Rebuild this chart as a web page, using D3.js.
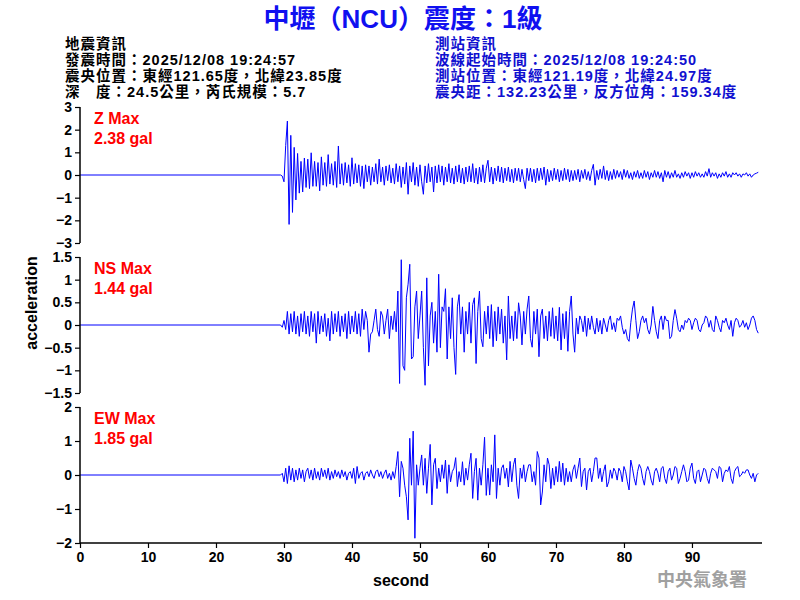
<!DOCTYPE html>
<html><head><meta charset="utf-8">
<script src="https://cdn.jsdelivr.net/npm/d3@7"></script>
<style>
html,body{margin:0;padding:0;background:#fff;}
text{font-family:"Liberation Sans","Noto Sans CJK TC",Arial,sans-serif;font-weight:bold;}
</style></head>
<body><svg id="c" width="800" height="600"></svg>
<script>
// ---- data ----
const title = "中壢（NCU）震度：1級";
const quakeInfo = ["地震資訊","發震時間：2025/12/08 19:24:57","震央位置：東經121.65度，北緯23.85度","深　度：24.5公里，芮氏規模：5.7"];
const stationInfo = ["測站資訊","波線起始時間：2025/12/08 19:24:50","測站位置：東經121.19度，北緯24.97度","震央距：132.23公里，反方位角：159.34度"];
const channels = ["Z","NS","EW"];
const maxLabels = ["2.38 gal","1.44 gal","1.85 gal"];
const yDomains = [[-3,3],[-1.5,1.5],[-2,2]];
const yTicks = [[-3,-2,-1,0,1,2,3],[-1.5,-1,-0.5,0,0.5,1,1.5],[-2,-1,0,1,2]];
const xTicks = [0,10,20,30,40,50,60,70,80,90];
const startTime = 29.5;   // seconds, first sample of arrays below
const sampleStep = 0.25;  // seconds between samples

const zValues = [
 0,-0.05,-0.3,1.3,  2.38,-2.18,1.75,-1.65,  1.22,-1.1,0.95,-0.8,  0.6,-0.75,0.75,-0.55,
 0.7,-0.6,0.98,-0.5,  0.6,-0.5,0.55,-0.7,  0.8,-0.45,0.55,-0.5,  0.9,-0.4,0.5,-0.45,
 0.6,-0.55,1.28,-0.4,  0.5,-0.45,0.55,-0.35,  0.45,-0.5,0.76,-0.4,  0.5,-0.35,0.45,-0.5,
 0.4,-0.6,0.45,-0.3,  0.4,-0.45,0.35,-0.3,  0.5,-0.4,0.7,-0.3,  0.35,-0.45,0.4,-0.25,
 0.45,-0.35,0.3,-0.4,  0.5,-0.3,0.4,-0.55,  0.35,-0.4,0.55,-0.85,  0.4,-0.3,0.55,-0.45,
 0.35,-0.5,0.45,-0.3,  -0.85,0.4,-0.35,0.5,  -0.3,0.35,-0.75,0.4,  -0.35,0.45,-0.3,0.4,
 -0.45,0.35,-0.3,0.5,  -0.35,0.3,-0.4,0.4,  -0.3,0.45,-0.35,0.3,  -0.4,0.35,-0.3,0.4,
 -0.3,0.5,-0.35,0.3,  -0.4,0.35,-0.3,0.45,  -0.35,0.3,0.65,-0.3,  0.35,-0.4,0.3,-0.25,
 0.4,-0.3,0.35,-0.35,  0.3,-0.25,0.35,-0.3,  0.25,-0.35,0.3,-0.25,  0.3,-0.3,0.25,-0.2,
 -0.6,0.3,-0.25,0.3,  -0.3,0.25,-0.35,0.3,  -0.25,0.3,-0.2,0.35,  -0.45,0.25,-0.3,0.2,
 -0.25,0.3,-0.2,0.25,  -0.3,0.2,-0.25,0.3,  -0.2,0.25,-0.3,0.2,  -0.25,0.2,-0.2,0.25,
 -0.3,0.2,-0.15,0.25,  -0.2,0.15,-0.25,0.2,  0.47,-0.45,0.2,-0.2,  0.25,-0.15,0.4,-0.2,
 0.2,-0.25,0.15,-0.2,  0.25,-0.15,0.2,-0.1,  0.15,-0.2,0.25,-0.1,  0.2,-0.15,0.1,-0.2,
 0.15,-0.1,0.2,-0.15,  0.1,-0.15,0.2,-0.1,  0.15,-0.2,0.1,-0.1,  0.2,-0.1,0.15,-0.15,
 0.1,-0.3,0.2,-0.1,  0.15,-0.15,0.1,-0.1,  0.2,-0.1,0.05,-0.15,  0.1,-0.1,0.15,-0.05,
 0.1,-0.15,0.1,-0.1,  0.15,-0.05,0.1,-0.1,  0.05,-0.1,0.15,-0.05,  0.28,-0.1,0.1,-0.05,
 0.1,-0.15,0.05,-0.1,  0.1,-0.05,0.15,-0.1,  0.05,-0.1,0.1,0.0,  0.1,-0.05,0.05,-0.1,
 0.05,0.0,0.1,-0.05,  0.05,-0.1,0.0,0.05,  0.08,0.12
];
const nsValues = [
 0,-0.05,0.1,-0.1,  0.3,-0.2,0.25,-0.15,  0.3,-0.2,0.2,-0.25,  0.25,-0.15,0.3,-0.2,
 0.2,-0.25,0.3,-0.15,  0.25,-0.4,0.3,-0.2,  0.2,-0.15,0.25,-0.25,  0.15,-0.35,0.3,-0.2,
 0.25,-0.15,0.3,-0.25,  0.2,-0.15,0.25,-0.3,  0.3,-0.2,0.2,-0.15,  0.3,-0.2,0.25,-0.25,
 0.35,-0.1,0.3,0.1,  -0.6,-0.2,-0.15,0.1,  0.35,-0.1,-0.25,0.3,  0.2,-0.2,0.1,0.35,
 -0.3,0.2,-0.1,0.3,  -0.15,0.75,-1.29,1.44,  -0.9,-1.0,0.6,0.9,  1.34,-0.75,-0.7,0.4,
 0.75,-0.3,0.2,0.75,  -0.5,-1.33,1.04,-0.9,  0.2,0.5,-0.4,0.3,  -0.6,1.12,-0.5,0.4,
 0.3,0.8,-0.75,0.4,  -0.3,0.6,-0.5,-1.09,  0.4,0.67,-0.2,0.4,  -0.6,0.3,-0.2,0.5,
 -0.4,0.45,0.6,-0.85,  0.3,0.75,-0.3,-0.48,  0.3,-0.2,0.42,-0.3,  0.45,-0.48,0.3,-0.35,
 0.4,-0.2,0.35,-0.4,  0.2,-0.77,0.64,-0.3,  0.2,-0.35,0.3,-0.3,  0.49,0.2,-0.44,0.3,
 -0.2,0.35,0.64,-0.3,  -0.49,0.3,-0.2,0.35,  -0.7,0.2,0.35,-0.3,  0.2,-0.35,0.3,-0.25,
 0.38,-0.3,0.2,-0.35,  0.39,-0.55,0.25,-0.3,  0.3,-0.58,0.3,0.64,  -0.2,-0.6,0.15,-0.2,
 0.2,0.1,-0.15,0.2,  -0.25,0.15,-0.1,0.2,  -0.05,-0.2,0.15,-0.15,  0.1,-0.2,0.15,0.0,
 -0.15,0.1,0.2,-0.1,  0.05,-0.15,0.15,0.1,  0.2,-0.05,-0.2,-0.1,  -0.3,-0.36,0.05,0.35,
 0.53,0.1,-0.3,-0.15,  0.1,0.2,0.05,0.15,  -0.1,-0.2,0.0,0.41,  0.1,-0.15,-0.3,0.1,
 0.2,-0.1,0.2,0.1,  0.1,-0.3,-0.25,0.1,  0.34,0.15,-0.1,-0.15,  0.0,-0.1,0.1,0.05,
 0.15,0.1,-0.1,0.05,  0.15,0.1,-0.1,-0.15,  0.0,0.05,0.2,0.15,  -0.05,0.1,-0.1,-0.15,
 0.2,0.1,-0.05,-0.15,  0.1,0.05,0.15,0.0,  -0.1,0.1,-0.25,0.05,  0.15,0.1,-0.05,0.0,
 0.1,-0.05,0.05,-0.1,  0.0,0.15,0.2,0.1,  -0.1,-0.18
];
const ewValues = [
 0,0.05,-0.2,0.2,  -0.25,0.27,-0.15,0.2,  -0.2,0.15,-0.15,0.2,  -0.1,0.15,-0.2,0.1,
 0.2,-0.1,0.15,-0.15,  0.2,-0.1,0.1,-0.15,  0.2,-0.05,0.15,-0.1,  0.2,-0.15,0.1,-0.1,
 0.15,-0.05,0.1,-0.1,  0.15,-0.05,0.1,-0.15,  0.05,0.1,-0.1,0.2,  -0.25,0.25,-0.1,0.05,
 0.1,-0.15,0.05,0.1,  -0.05,0.15,0.0,-0.1,  0.1,0.15,-0.05,0.1,  -0.1,0.05,0.15,-0.1,
 0.05,-0.15,0.1,-0.1,  0.25,0.69,-0.64,0.4,  0.2,-0.3,-0.64,-1.32,  1.08,-0.3,1.29,-1.86,
 0.3,-0.3,0.2,0.59,  -0.3,0.49,-0.54,0.2,  0.9,-0.88,0.3,0.49,  -0.4,0.2,-0.2,0.3,
 -0.1,0.44,-0.54,0.3,  -0.2,0.1,0.2,0.51,  -0.34,0.1,-0.2,0.39,  -0.3,0.2,-0.15,0.3,
 0.64,-0.69,0.1,0.49,  -0.74,0.2,-0.3,0.3,  1.11,-0.6,0.2,-0.59,  0.3,-0.2,1.18,-0.69,
 0.2,-0.3,0.2,0.3,  -0.1,0.2,-0.35,0.4,  -0.2,0.3,0.5,-0.3,  -0.69,0.2,-0.1,0.3,
 -0.2,0.1,0.3,0.3,  -0.2,0.1,-0.3,0.69,  0.5,-0.88,-0.5,0.3,  -0.2,0.5,0.3,-0.4,
 0.2,-0.3,0.25,-0.2,  0.4,-0.2,0.35,-0.3,  0.2,-0.2,0.1,-0.2,  0.15,0.3,-0.1,0.2,
 0.5,-0.34,0.1,0.2,  -0.44,0.1,0.2,-0.2,  0.1,0.5,0.5,-0.1,  0.2,-0.2,0.1,0.3,
 -0.35,-0.2,0.15,-0.1,  0.2,0.1,-0.15,0.2,  0.1,-0.2,0.25,0.1,  -0.2,-0.44,0.44,0.2,
 -0.1,-0.3,0.1,0.31,  0.2,-0.1,-0.3,0.1,  0.25,0.1,-0.15,-0.3,  0.1,0.2,0.05,-0.2,
 0.2,0.25,-0.1,-0.25,  0.1,0.2,-0.15,0.0,  0.25,0.2,-0.25,-0.1,  0.1,0.3,0.1,-0.2,
 -0.15,0.2,0.35,-0.1,  -0.25,0.1,0.15,-0.2,  0.0,0.2,0.15,-0.1,  -0.25,0.05,0.2,0.15,
 0.1,-0.1,0.25,0.2,  -0.2,0.05,0.15,0.1,  0.25,-0.1,-0.25,0.1,  0.2,0.25,-0.05,0.0,
 0.1,0.05,0.15,0.15,  0.0,-0.1,0.05,-0.2,  0.0,0.05
];
const series = [zValues, nsValues, ewValues];

// ---- layout ----
const svg = d3.select("#c");
const blue = "#0000ff";
const x = d3.scaleLinear().domain([0, 100.3]).range([80, 762]);
const panelRanges = [[243,107],[393,257],[543,407]];

svg.append("text").attr("x",403).attr("y",28).attr("text-anchor","middle")
  .attr("font-size",26).attr("fill","#1010f0").text(title);

quakeInfo.forEach((t,i)=>svg.append("text").attr("x",65).attr("y",49+i*16)
  .attr("font-size",14.5).attr("letter-spacing",1).attr("fill","#000").text(t));
stationInfo.forEach((t,i)=>svg.append("text").attr("x",435).attr("y",49+i*16)
  .attr("font-size",14.5).attr("letter-spacing",1).attr("fill","#1010d0").text(t));

series.forEach((vals,k)=>{
  const y = d3.scaleLinear().domain(yDomains[k]).range(panelRanges[k]);
  const pts = [[0,0]].concat(vals.map((v,i)=>[startTime+i*sampleStep, v]));
  const line = d3.line().x(d=>x(d[0])).y(d=>y(d[1])).curve(d3.curveLinear);
  svg.append("path").datum(pts).attr("d",line).attr("fill","none")
    .attr("stroke",blue).attr("stroke-width",1);
  const ax = svg.append("g").attr("transform","translate(80,0)")
    .call(d3.axisLeft(y).tickValues(yTicks[k]).tickSize(5).tickPadding(3).tickFormat(d3.format("")));
  ax.select(".domain").attr("stroke","#000").attr("stroke-width",1.5).attr("d",`M0,${panelRanges[k][1]}V${panelRanges[k][0]}`);
  ax.selectAll(".tick line").attr("stroke","#000").attr("stroke-width",1.2);
  ax.selectAll(".tick text").attr("font-size",14).attr("fill","#000")
    .style("font-family","'Liberation Sans',Arial,sans-serif").style("font-weight","bold");
  svg.append("text").attr("x",94).attr("y",panelRanges[k][1]+17).attr("font-size",16)
    .attr("fill","#ff0000").text(channels[k]+" Max");
  svg.append("text").attr("x",94).attr("y",panelRanges[k][1]+37).attr("font-size",16)
    .attr("fill","#ff0000").text(maxLabels[k]);
});

const xa = svg.append("g").attr("transform","translate(0,543)")
  .call(d3.axisBottom(x).tickValues(xTicks).tickSize(5).tickPadding(4));
xa.select(".domain").attr("stroke","#000").attr("stroke-width",1.5).attr("d","M80,0H762");
xa.selectAll(".tick line").attr("stroke","#000").attr("stroke-width",1.2);
xa.selectAll(".tick text").attr("font-size",14).attr("fill","#000")
  .style("font-family","'Liberation Sans',Arial,sans-serif").style("font-weight","bold");

svg.append("text").attr("transform","translate(37,303) rotate(-90)").attr("text-anchor","middle")
  .attr("font-size",16).attr("fill","#000").text("acceleration");
svg.append("text").attr("x",401).attr("y",586).attr("text-anchor","middle")
  .attr("font-size",16).attr("fill","#000").text("second");
svg.append("text").attr("x",702).attr("y",586).attr("text-anchor","middle")
  .attr("font-size",18).attr("fill","#a0a0a0").text("中央氣象署");
</script></body></html>
